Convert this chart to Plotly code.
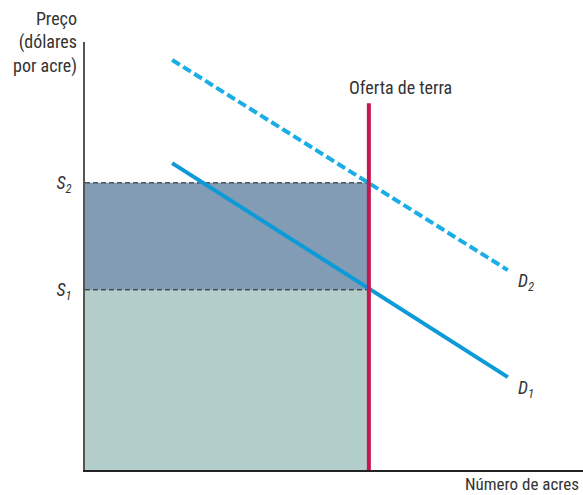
import plotly.graph_objects as go

# Modelo: oferta fixa de terra, duas curvas de demanda
oferta_x = 5.70
oferta_topo = 8.57
precos = [4.21, 6.71]          # S1, S2
preco_labels = ["<i>S</i><sub><i>1</i></sub>", "<i>S</i><sub><i>2</i></sub>"]
d1_x = [1.75, 8.49]
d1_y = [7.17, 2.17]
d2_x = [1.75, 8.49]
d2_y = [9.58, 4.67]

fonte = "Liberation Sans Narrow, Roboto Condensed, Roboto, sans-serif"
texto = "#333333"

fig = go.Figure()

# retângulos de renda
fig.add_trace(go.Scatter(x=[0, oferta_x, oferta_x, 0, 0], y=[0, 0, precos[0], precos[0], 0],
                         fill="toself", fillcolor="#B3CDCB", line=dict(width=0),
                         mode="lines", hoverinfo="skip"))
fig.add_trace(go.Scatter(x=[0, oferta_x, oferta_x, 0, 0], y=[precos[0], precos[0], precos[1], precos[1], precos[0]],
                         fill="toself", fillcolor="#819CB4", line=dict(width=0),
                         mode="lines", hoverinfo="skip"))

# linhas tracejadas de preço
for p in precos:
    fig.add_trace(go.Scatter(x=[0, oferta_x], y=[p, p], mode="lines",
                             line=dict(color="#1a1a1a", width=1, dash="5px,3px")))

# demanda
fig.add_trace(go.Scatter(x=d2_x, y=d2_y, mode="lines", line=dict(color="#1AADE6", width=4, dash="9px,4px")))
fig.add_trace(go.Scatter(x=d1_x, y=d1_y, mode="lines", line=dict(color="#0C9AD8", width=4)))

# oferta de terra
fig.add_trace(go.Scatter(x=[oferta_x, oferta_x], y=[0, oferta_topo], mode="lines",
                         line=dict(color="#C8174F", width=4)))

fig.add_annotation(x=oferta_x, y=oferta_topo, text="Oferta de terra", showarrow=False,
                   xanchor="left", yanchor="bottom", xshift=-22, yshift=3,
                   font=dict(size=18, color=texto))
fig.add_annotation(x=d2_x[1], y=d2_y[1], text="<i>D</i><sub><i>2</i></sub>", showarrow=False,
                   xanchor="left", yanchor="top", xshift=8, yshift=2,
                   font=dict(size=18, color=texto))
fig.add_annotation(x=d1_x[1], y=d1_y[1], text="<i>D</i><sub><i>1</i></sub>", showarrow=False,
                   xanchor="left", yanchor="top", xshift=8, yshift=2,
                   font=dict(size=18, color=texto))
fig.add_annotation(x=1, y=0, xref="paper", yref="paper", text="Número de acres", showarrow=False,
                   xanchor="right", yanchor="top", yshift=-2, xshift=-2,
                   font=dict(size=17, color=texto))
fig.add_annotation(x=0, y=1, xref="paper", yref="paper", text="Preço<br>(dólares<br>por acre)",
                   showarrow=False, align="right", xanchor="right", yanchor="top",
                   xshift=-6, yshift=36, font=dict(size=18, color=texto))

fig.update_layout(
    width=583, height=495, showlegend=False,
    margin=dict(l=85, r=0, t=42, b=25),
    plot_bgcolor="white", paper_bgcolor="white",
    font=dict(family=fonte, color=texto),
    xaxis=dict(range=[0, 10], showgrid=False, zeroline=False, showticklabels=False,
               showline=True, linecolor="#222222", linewidth=1.5, fixedrange=True),
    yaxis=dict(range=[0, 10], showgrid=False, zeroline=False,
               tickvals=precos, ticktext=preco_labels, ticks="", tickfont=dict(size=18),
               ticklabelstandoff=8,
               showline=True, linecolor="#555555", linewidth=1.5, fixedrange=True),
)

fig.write_html("out.html", config={"displayModeBar": False},
               post_script="document.body.style.margin='0';")
